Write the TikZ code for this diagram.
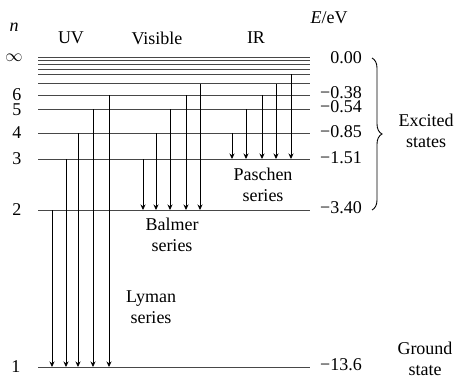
\documentclass[tikz,border=0pt]{standalone}
\usepackage{fontspec}
\setmainfont{Liberation Serif}
\usetikzlibrary{arrows.meta,decorations.pathreplacing}
\begin{document}
\begin{tikzpicture}[x=1pt,y=-1pt,
  level/.style={line width=1pt, black!72},
  trans/.style={line width=0.75pt, black, -{Stealth[length=5.5pt,width=5pt]}},
  lbl/.style={font=\fontsize{18}{21}\selectfont, inner sep=0pt, align=center},
  elbl/.style={lbl, anchor=east},
]
\useasboundingbox (0,0) rectangle (455,375);
% energy levels
\foreach \y in {57,60.3,64.3,69,74.3,83.7,95,109,133,159,210,367}
  \draw[level] (38,\y) -- (310,\y);
% Lyman series (to n=1)
\foreach \x/\f in {52/210,66/159,78/133,93/109,109/95}
  \draw[trans] (\x,\f) -- (\x,367);
% Balmer series (to n=2)
\foreach \x/\f in {143/159,156/133,170/109,186/95,200/83.7}
  \draw[trans] (\x,\f) -- (\x,210);
% Paschen series (to n=3)
\foreach \x/\f in {232/133,246/109,262/95,276/83.7,291/74.3}
  \draw[trans] (\x,\f) -- (\x,159);
% left quantum numbers
\node[lbl] (nlab) at (14,27) {\textit{n}};
\node[lbl] (ninf) at (14,58) {$\infty$};
\node[lbl] (n6) at (17,95) {6};
\node[lbl] (n5) at (17,109.5) {5};
\node[lbl] (n4) at (17,133) {4};
\node[lbl] (n3) at (17,159) {3};
\node[lbl] (n2) at (17,210) {2};
\node[lbl] (n1) at (16,367) {1};
% headers
\node[lbl] (uv) at (71,38) {UV};
\node[lbl] (vis) at (157,38) {Visible};
\node[lbl] (ir) at (256,38) {IR};
\node[lbl] (eev) at (329,18) {\textit{E}/eV};
% energies
\node[elbl] (e0) at (362,58) {0.00};
\node[elbl] (e6) at (362,93) {−0.38};
\node[elbl] (e5) at (362,107) {−0.54};
\node[elbl] (e4) at (362,132) {−0.85};
\node[elbl] (e3) at (362,158) {−1.51};
\node[elbl] (e2) at (362,208) {−3.40};
\node[elbl] (e1) at (362,365) {−13.6};
% series labels
\node[lbl] (lyman) at (151,307) {Lyman\\series};
\node[lbl] (balmer) at (172,235) {Balmer\\series};
\node[lbl] (paschen) at (263,185) {Paschen\\series};
% brace and state labels
\coordinate (btop) at (372,58);
\coordinate (bbot) at (372,210);
\draw[line width=0.9pt, decorate, decoration={brace, amplitude=10pt}] (btop) -- (bbot);
\node[lbl] (excited) at (426,131) {Excited\\states};
\node[lbl] (ground) at (425,359) {Ground\\state};
\end{tikzpicture}
\end{document}
